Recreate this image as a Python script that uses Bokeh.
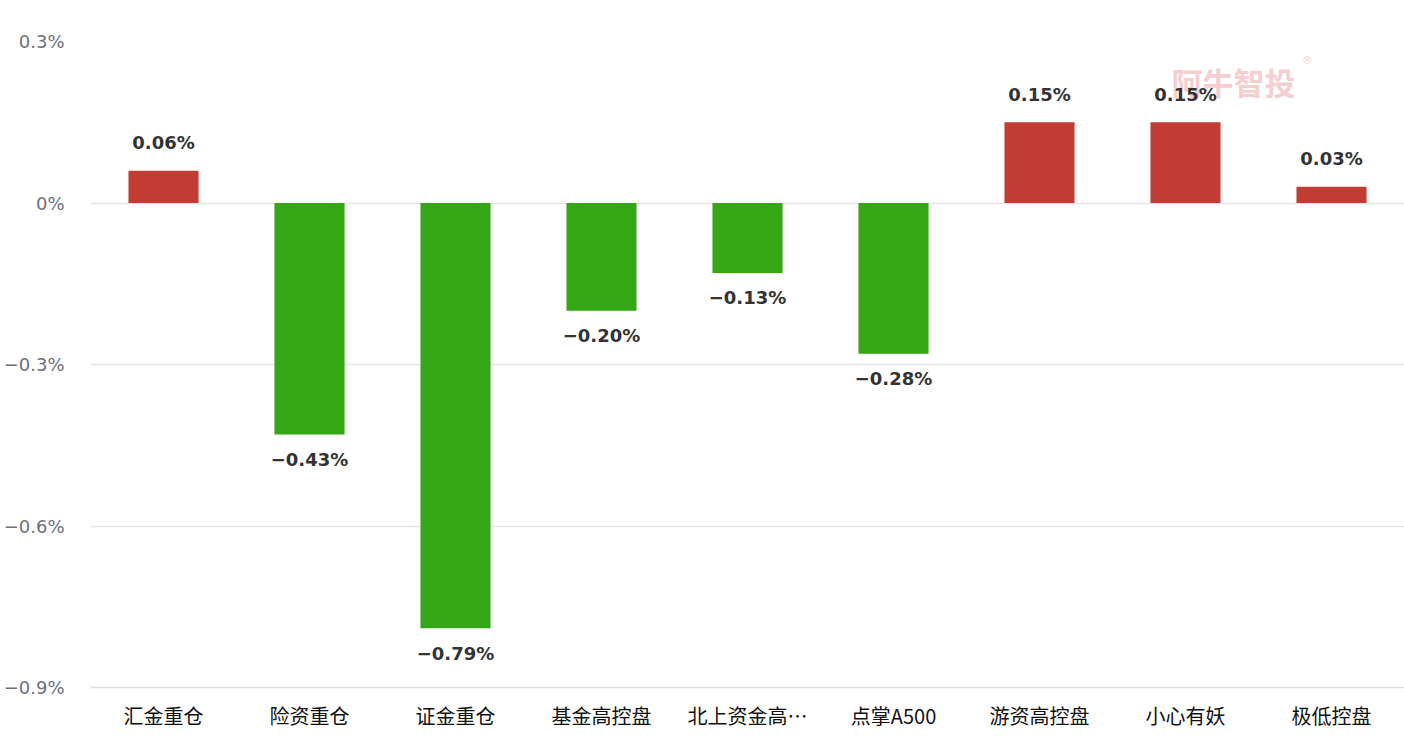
from bokeh.plotting import figure
from bokeh.models import FactorRange, Range1d, FixedTicker, CustomJSTickFormatter, ColumnDataSource
from bokeh.core.properties import value
from bokeh.embed import file_html
from bokeh.resources import INLINE

categories = ["汇金重仓", "险资重仓", "证金重仓", "基金高控盘", "北上资金高…", "点掌A500", "游资高控盘", "小心有妖", "极低控盘"]
values = [0.06, -0.43, -0.79, -0.20, -0.13, -0.28, 0.15, 0.15, 0.03]
y_ticks = [-0.9, -0.6, -0.3, 0.0, 0.3]

RED = "#c23c33"
GREEN = "#34a814"

colors = [RED if v >= 0 else GREEN for v in values]
labels = [f"{v:.2f}%".replace("-", "\u2212") for v in values]

src = ColumnDataSource(dict(cat=categories, val=values, color=colors, label=labels))
pos = ColumnDataSource(dict(cat=[c for c, v in zip(categories, values) if v >= 0],
                            val=[v for v in values if v >= 0],
                            label=[l for l, v in zip(labels, values) if v >= 0]))
neg = ColumnDataSource(dict(cat=[c for c, v in zip(categories, values) if v < 0],
                            val=[v for v in values if v < 0],
                            label=[l for l, v in zip(labels, values) if v < 0]))

p = figure(width=1404, height=742, output_backend="svg", toolbar_location=None,
           x_range=FactorRange(*categories, range_padding=0),
           y_range=Range1d(-0.9, 0.3),
           min_border_left=90, min_border_right=0, min_border_top=41, min_border_bottom=55)
p.outline_line_color = None
p.background_fill_color = "white"
p.border_fill_color = "white"

# watermark
p.text(x=["小心有妖"], y=[0.225], text=["阿牛智投"], x_offset=48,
       text_font=value("Noto Sans CJK SC"), text_font_style="bold", text_font_size="31px",
       text_color="#f5cfcf", text_align="center", text_baseline="middle")
p.text(x=["小心有妖"], y=[0.265], text=["®"], x_offset=122,
       text_font=value("DejaVu Sans"), text_font_size="11px",
       text_color="#f5cfcf", text_align="center", text_baseline="middle")

p.vbar(x="cat", top="val", bottom=0, width=0.48, color="color", line_color=None, source=src)

p.text(x="cat", y="val", text="label", source=pos, y_offset=-28,
       text_font=value("DejaVu Sans"), text_font_style="bold", text_font_size="18px",
       text_color="#333333", text_align="center", text_baseline="middle")
p.text(x="cat", y="val", text="label", source=neg, y_offset=25,
       text_font=value("DejaVu Sans"), text_font_style="bold", text_font_size="18px",
       text_color="#333333", text_align="center", text_baseline="middle")

p.xgrid.grid_line_color = None
p.ygrid.grid_line_color = "#e6e6e6"
p.ygrid.grid_line_width = 1.5
p.yaxis.ticker = FixedTicker(ticks=y_ticks)
p.yaxis.formatter = CustomJSTickFormatter(code="""
var v = Math.round(tick*10)/10;
if (v === 0) return "0%";
if (v < 0) return "\u2212" + Math.abs(v) + "%";
return v + "%";
""")
p.yaxis.axis_line_color = None
p.yaxis.major_tick_line_color = None
p.yaxis.minor_tick_line_color = None
p.yaxis.major_tick_out = 0
p.yaxis.major_tick_in = 0
p.yaxis.minor_tick_out = 0
p.yaxis.major_label_standoff = 26
p.yaxis.major_label_text_font = "DejaVu Sans"
p.yaxis.major_label_text_font_size = "18px"
p.yaxis.major_label_text_color = "#6e7079"

p.xaxis.axis_line_color = "#e0e0e0"
p.xaxis.axis_line_width = 1.5
p.xaxis.major_tick_line_color = None
p.xaxis.minor_tick_line_color = None
p.xaxis.major_tick_out = 0
p.xaxis.major_tick_in = 0
p.xaxis.minor_tick_out = 0
p.xaxis.major_label_standoff = 13
p.xaxis.major_label_text_font = "Noto Sans CJK SC"
p.xaxis.major_label_text_font_size = "20px"
p.xaxis.major_label_text_color = "#111111"

open("out.html", "w").write(file_html(p, INLINE))
